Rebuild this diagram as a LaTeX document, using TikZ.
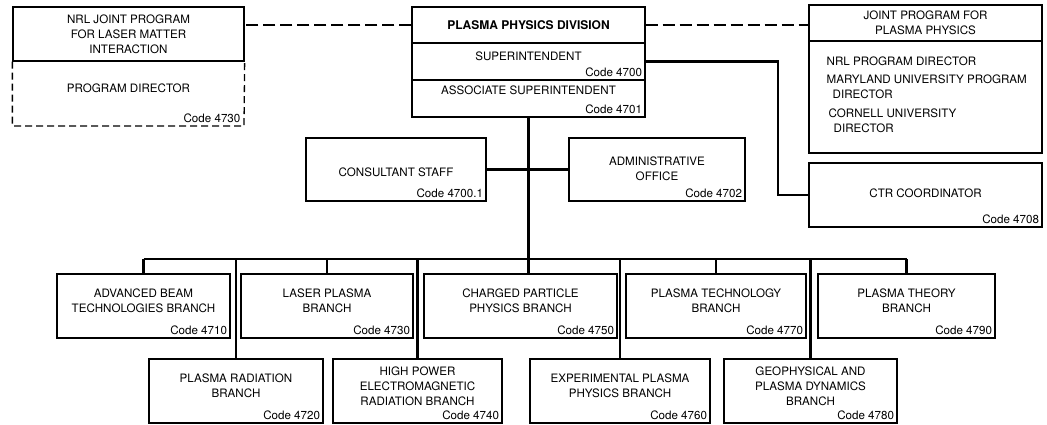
\documentclass[tikz,border=0pt]{standalone}
\usepackage{fontspec}
\setmainfont{TeX Gyre Heros}
\begin{document}
\begin{tikzpicture}[x=1pt, y=-1pt, line width=1.3pt,
    every node/.style={font=\fontsize{11.6}{15}\selectfont},
    unit/.style={draw, inner sep=0pt},
    code/.style={anchor=south east, inner sep=3pt},
    link/.style={line width=2.5pt},
    joint/.style={line width=2pt, dash pattern=on 12pt off 5pt},
    dashbox/.style={line width=1.3pt, dash pattern=on 7pt off 4pt}]
    \useasboundingbox (0,0) rectangle (1047,424);
    % joint program for laser matter interaction
    \node[unit, minimum width=231, minimum height=54] (nrl) at (128.5,34) {};
    \node[align=center] (nrl-txt) at (128.5,34) {NRL JOINT PROGRAM\\FOR LASER MATTER\\INTERACTION};
    \coordinate (nrl-se) at (244,126);
    \draw[dashbox] (nrl.south west) -- (nrl.south west |- nrl-se) -- (nrl-se) -- (nrl.south east);
    \node (nrl-dir) at (128.5,88) {PROGRAM DIRECTOR};
    \node[code] (nrl-code) at (nrl-se) {Code 4730};
    % division head
    \node[unit, minimum width=233, minimum height=36] (ppd) at (528.5,25) {};
    \node[font=\fontsize{12}{14}\selectfont\bfseries] (ppd-txt) at (ppd) {PLASMA PHYSICS DIVISION};
    \node[unit, minimum width=233, minimum height=37] (supt) at (528.5,61.5) {};
    \node (supt-txt) at (528.5,56) {SUPERINTENDENT};
    \node[code] (supt-code) at (supt.south east) {Code 4700};
    \node[unit, minimum width=233, minimum height=37] (assoc) at (528.5,98.5) {};
    \node (assoc-txt) at (528.5,90) {ASSOCIATE SUPERINTENDENT};
    \node[code] (assoc-code) at (assoc.south east) {Code 4701};
    % joint program for plasma physics
    \node[unit, minimum width=233, minimum height=36] (jp) at (925.5,23) {};
    \node[align=center] (jp-txt) at (jp) {JOINT PROGRAM FOR\\PLASMA PHYSICS};
    \node[unit, minimum width=233, minimum height=112] (jp-staff) at (925.5,97) {};
    \node[anchor=west, inner sep=0pt] (jp-nrl) at (826,61) {NRL PROGRAM DIRECTOR};
    \node[anchor=west, align=left, inner sep=0pt] (jp-md) at (826,87) {MARYLAND UNIVERSITY PROGRAM\\\hspace{6pt}DIRECTOR};
    \node[anchor=west, align=left, inner sep=0pt] (jp-cu) at (828,121) {CORNELL UNIVERSITY\\\hspace{5pt}DIRECTOR};
    \node[unit, minimum width=233, minimum height=64] (ctr) at (925.5,195) {};
    \node (ctr-txt) at (925.5,193) {CTR COORDINATOR};
    \node[code] (ctr-code) at (ctr.south east) {Code 4708};
    % staff units
    \node[unit, minimum width=180, minimum height=63] (staff) at (396,169.5) {};
    \node (staff-txt) at (396,172) {CONSULTANT STAFF};
    \node[code] (staff-code) at (staff.south east) {Code 4700.1};
    \node[unit, minimum width=176, minimum height=63] (admin) at (657,169.5) {};
    \node[align=center] (admin-txt) at (657,168.5) {ADMINISTRATIVE\\OFFICE};
    \node[code] (admin-code) at (admin.south east) {Code 4702};
    % branches
    \foreach \name/\cx/\boxw/\cy/\txt in {
        b4710/143.5/173/306/{ADVANCED BEAM\\TECHNOLOGIES BRANCH},
        b4730/327/172/306/{LASER PLASMA\\BRANCH},
        b4750/520.5/193/306/{CHARGED PARTICLE\\PHYSICS BRANCH},
        b4770/716/180/306/{PLASMA TECHNOLOGY\\BRANCH},
        b4790/906.5/177/306/{PLASMA THEORY\\BRANCH},
        b4720/236/174/391/{PLASMA RADIATION\\BRANCH},
        b4740/417.5/169/391/{HIGH POWER\\ELECTROMAGNETIC\\RADIATION BRANCH},
        b4760/620/180/391/{EXPERIMENTAL PLASMA\\PHYSICS BRANCH},
        b4780/810.5/173/391/{GEOPHYSICAL AND\\PLASMA DYNAMICS\\BRANCH}} {
        \node[unit, minimum width=\boxw, minimum height=64] (\name) at (\cx,\cy) {};
        \node[align=center] (\name-txt) at (\cx,\cy-5) {\txt};
    }
    \foreach \name/\code in {b4710/4710, b4730/4730, b4750/4750, b4770/4770, b4790/4790,
        b4720/4720, b4740/4740, b4760/4760, b4780/4780}
        \node[code] (\name-code) at (\name.south east) {Code \code};
    % connectors
    \draw[joint] (ppd.west) -- (ppd.west -| nrl.east);
    \draw[joint] (ppd.east) -- (ppd.east -| jp.west);
    \coordinate (ctr-bend) at (778,0);
    \draw[link] (supt.east) -| (ctr-bend |- ctr.west) -- (ctr.west);
    \draw[link] (staff.east) -- (admin.west);
    \draw[link] (assoc.south) -- (assoc.south |- b4750.north);
    \coordinate (bus) at (0,259);
    \draw[link] (b4710.north |- bus) -- (b4790.north |- bus);
    \foreach \name in {b4710,b4730,b4770,b4790,b4720,b4740,b4760,b4780}
        \draw[link] (\name.north |- bus) -- (\name.north);
\end{tikzpicture}
\end{document}
